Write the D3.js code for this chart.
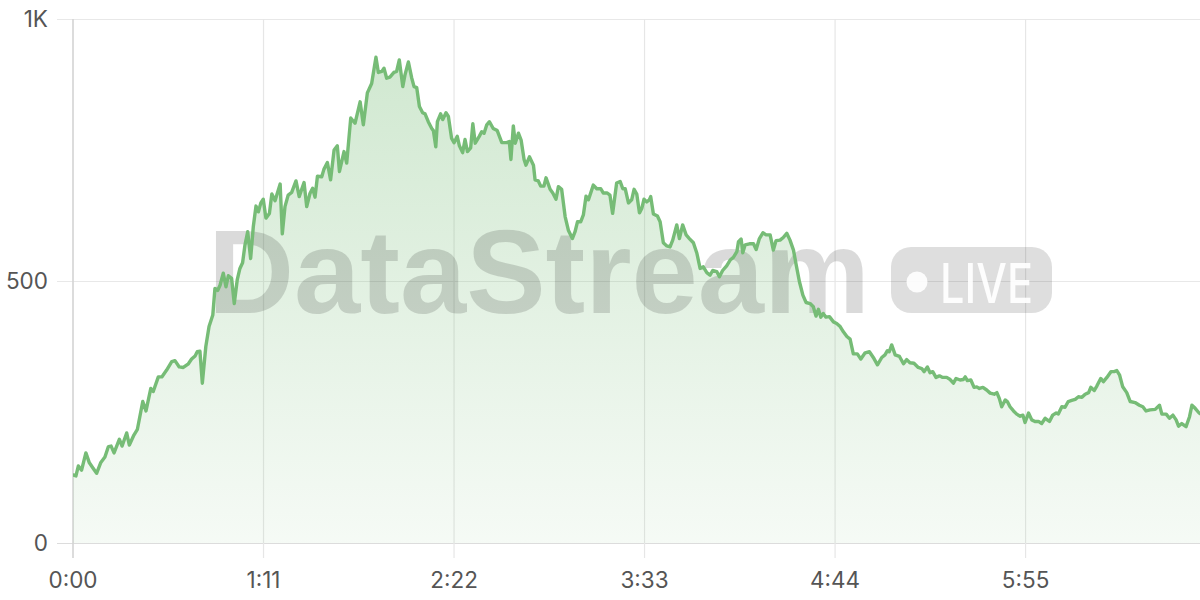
<!DOCTYPE html>
<html>
<head>
<meta charset="utf-8">
<script src="https://cdn.jsdelivr.net/npm/d3@7/dist/d3.min.js"></script>
<style>
  html, body { margin: 0; padding: 0; background: #ffffff; }
  svg { display: block; }
</style>
</head>
<body>
<svg id="chart" width="1200" height="600"></svg>
<script>
// ---- data (seconds, value) ----
const times = [
0,1.1,2.0,3.2,4.8,6.1,7.3,8.8,10.3,11.9,13.2,14.2,15.3,17.3,18.3,20.0,21.0,22.7,24.0,26.0,27.2,29.0,29.9,31.8,33.1,34.9,36.8,38.0,39.6,41.1,43.0,44.2,45.5,46.3,47.3,48.2,49.5,50.7,52.1,52.9,53.9,54.8,56.0,57.0,57.9,59.1,60.1,61.2,62.2,63.2,64.1,65.1,66.2,67.2,68.2,
69.1,70.0,70.9,71.9,73.2,74.1,75.3,77.2,78.0,79.0,80.2,81.5,83.1,84.3,86.1,87.1,88.3,89.3,90.2,91.1,92.7,93.5,94.8,96.0,97.3,98.5,99.3,101.0,102.0,103.5,105.1,107.0,108.2,109.7,111.3,112.9,113.8,115.1,115.9,116.9,118.1,119.6,120.6,121.6,122.9,123.7,125.0,126.2,127.1,128.1,129.1,130.3,131.2,132.4,133.7,134.3,135.2,135.8,137.0,137.8,139.0,
139.9,141.1,142.0,143.2,144.0,145.2,146.1,147.0,148.2,149.0,149.9,151.4,152.3,153.2,154.2,155.2,156.6,158.1,159.8,161.6,162.6,163.2,164.1,164.8,166.0,167.0,168.1,168.8,170.1,171.6,172.2,173.4,174.3,175.5,176.3,177.8,178.8,180.0,180.9,182.1,183.4,184.6,186.1,187.1,188.0,189.2,190.2,191.2,192.1,193.9,195.2,196.7,197.6,199.1,200.1,201.1,202.6,203.9,204.9,205.8,207.0,208.2,209.1,210.1,211.1,212.0,212.8,213.8,214.8,215.3,216.3,217.8,218.8,220.0,221.3,222.5,
223.5,225.0,226.0,227.2,228.5,229.7,231.2,232.5,233.7,234.9,236.2,237.4,238.4,239.9,240.9,242.1,243.6,244.9,246.1,247.4,248.0,249.0,249.6,250.5,252.1,253.6,254.6,255.8,257.1,258.3,259.8,261.0,262.0,263.5,264.7,266.0,267.2,268.5,269.5,270.7,272.0,273.2,274.7,275.9,276.9,277.8,278.7,279.6,280.6,281.9,283.4,284.6,285.9,287.1,288.4,289.6,290.8,292.3,293.6,295.2,296.8,
298.5,299.8,301.4,302.6,303.5,304.2,305.1,306.4,308.0,309.5,310.7,311.9,313.4,315.0,316.3,317.2,318.4,319.4,320.4,321.6,322.9,324.1,325.6,326.9,328.1,329.1,330.6,331.8,332.5,333.3,334.6,335.8,336.8,337.8,339.1,340.5,341.8,343.3,344.3,345.2,346.1,347.4,348.2,349.2,350.5,351.7,353.0,354.0,354.8,356.1,357.3,358.5,359.8,361.0,362.3,363.9,365.1,366.4,367.2,368.5,369.7,370.9,372.2,373.5,374.7,376.0,377.2,378.5,379.3,380.6,381.6,383.0,384.0,385.3,386.8,388.0,389.0,390.0,391.2,392.7,394.0,395.8,397.4,398.7,399.9,401.4,403.3,404.9,405.8,407.4,408.6,409.9,411.1,412.0,413.2,414.8,416.1,417.0,418.2,419.5,420
];
const values = [
130,128,147,139,172,153,144,133,153,164,184,185,172,198,185,210,187,206,217,270,252,295,289,317,317,330,346,348,336,335,342,351,357,365,366,305,375,413,435,486,482,492,515,489,510,505,457,502,524,535,569,594,543,604,643,
632,649,656,620,629,666,653,685,590,642,664,669,691,661,688,642,667,677,660,700,699,713,726,693,750,758,709,747,725,811,801,842,798,859,877,927,898,900,906,887,889,898,900,922,871,893,918,888,871,869,833,821,819,804,791,787,756,804,819,808,821,
814,772,764,776,758,745,770,747,754,800,763,776,785,782,798,804,791,787,764,764,766,732,796,763,782,769,732,721,737,721,693,691,681,681,697,675,668,656,680,675,623,597,581,594,613,613,626,662,655,683,676,676,668,668,664,629,687,690,676,676,649,655,675,666,630,639,656,651,655,661,628,624,613,573,567,565,
578,607,581,607,588,581,573,553,524,527,516,511,520,518,508,520,529,540,545,556,575,580,554,569,571,571,560,581,592,588,588,559,577,578,583,591,578,559,531,499,473,459,457,451,433,446,431,438,431,432,422,419,413,403,394,389,361,361,351,363,365,
352,340,354,359,367,365,378,359,356,342,350,344,343,335,333,327,336,325,327,316,319,316,316,312,305,314,311,312,317,310,311,297,298,295,297,292,286,284,287,276,260,273,270,260,252,246,242,244,230,248,235,232,232,228,238,232,244,248,246,260,259,270,272,274,279,278,284,287,297,291,300,314,308,316,327,327,329,321,298,287,270,268,263,260,252,254,255,263,246,246,238,244,235,223,228,222,241,263,257,249,247
];
const xTicks = [0, 71, 142, 213, 284, 355];
const xTickLabels = ["0:00", "1:11", "2:22", "3:33", "4:44", "5:55"];
const yTicks = [0, 500, 1000];
const yTickLabels = ["0", "500", "1K"];

const data = times.map((t, i) => ({ t, v: values[i] }));

// ---- layout ----
const svg = d3.select("#chart");
const pL = 73, pR = 1200, pT = 19, pB = 543;
const x = d3.scaleLinear().domain([0, 420]).range([pL, pR]);
const y = d3.scaleLinear().domain([0, 1000]).range([pB, pT]);

const defs = svg.append("defs");
const grad = defs.append("linearGradient")
  .attr("id", "areaGrad").attr("gradientUnits", "userSpaceOnUse")
  .attr("x1", 0).attr("x2", 0).attr("y1", y(930)).attr("y2", pB);
grad.append("stop").attr("offset", "0%").attr("stop-color", "#76bc76").attr("stop-opacity", 0.34);
grad.append("stop").attr("offset", "100%").attr("stop-color", "#76bc76").attr("stop-opacity", 0.07);
defs.append("clipPath").attr("id", "plotClip")
  .append("rect").attr("x", pL).attr("y", 0).attr("width", pR - pL).attr("height", pB);

// grid
const grid = svg.append("g");
grid.selectAll(".hg").data(yTicks).join("line")
  .attr("x1", 57).attr("x2", pR)
  .attr("y1", d => y(d) + 0.5).attr("y2", d => y(d) + 0.5)
  .attr("stroke", (d) => d === 0 ? "#dcdcdc" : "#e8e8e8").attr("stroke-width", 1.2);
grid.selectAll(".vg").data(xTicks).join("line")
  .attr("x1", d => x(d)).attr("x2", d => x(d))
  .attr("y1", pT).attr("y2", pB + 15)
  .attr("stroke", (d) => d === 0 ? "#d4d4d4" : "#e6e6e6").attr("stroke-width", d => d === 0 ? 1.6 : 1.2);

// area
const area = d3.area().x(d => x(d.t)).y0(pB).y1(d => y(d.v));
svg.append("path").datum(data)
  .attr("clip-path", "url(#plotClip)")
  .attr("d", area).attr("fill", "url(#areaGrad)");

// watermark
const wm = svg.append("g");
wm.append("text")
  .attr("x", 208).attr("y", 313)
  .attr("font-family", "'Liberation Sans', Arial, sans-serif")
  .attr("font-weight", 700).attr("font-size", 118)
  .attr("textLength", 662).attr("lengthAdjust", "spacingAndGlyphs")
  .attr("fill", "rgba(0,0,0,0.145)")
  .text("DataStream");
wm.append("rect")
  .attr("x", 891).attr("y", 247).attr("width", 161).attr("height", 66).attr("rx", 20)
  .attr("fill", "rgba(0,0,0,0.13)");
wm.append("circle").attr("cx", 917).attr("cy", 282).attr("r", 10.5).attr("fill", "rgba(255,255,255,0.9)");
wm.append("text")
  .attr("x", 940).attr("y", 303)
  .attr("font-family", "Inter, 'Liberation Sans', sans-serif")
  .attr("font-weight", 500).attr("font-size", 55)
  .attr("textLength", 93).attr("lengthAdjust", "spacingAndGlyphs")
  .attr("fill", "rgba(255,255,255,0.92)")
  .text("LIVE");

// line
const line = d3.line().x(d => x(d.t)).y(d => y(d.v));
svg.append("path").datum(data)
  .attr("clip-path", "url(#plotClip)")
  .attr("d", line).attr("fill", "none")
  .attr("stroke", "#76bc76").attr("stroke-width", 3.4)
  .attr("stroke-linejoin", "round").attr("stroke-linecap", "round");

// axes labels
const fontFam = "Inter, 'Noto Sans', sans-serif";
svg.append("g").selectAll("text").data(yTicks).join("text")
  .attr("x", 48).attr("y", d => y(d)).attr("dy", "0.36em")
  .attr("text-anchor", "end")
  .attr("font-family", fontFam).attr("font-size", 22.5).attr("fill", "#555")
  .text((d, i) => yTickLabels[i]);
svg.append("g").selectAll("text").data(xTicks).join("text")
  .attr("x", d => x(d)).attr("y", 588)
  .attr("text-anchor", "middle")
  .attr("font-family", fontFam).attr("font-size", 22.5).attr("fill", "#555")
  .text((d, i) => xTickLabels[i]);
</script>
</body>
</html>
